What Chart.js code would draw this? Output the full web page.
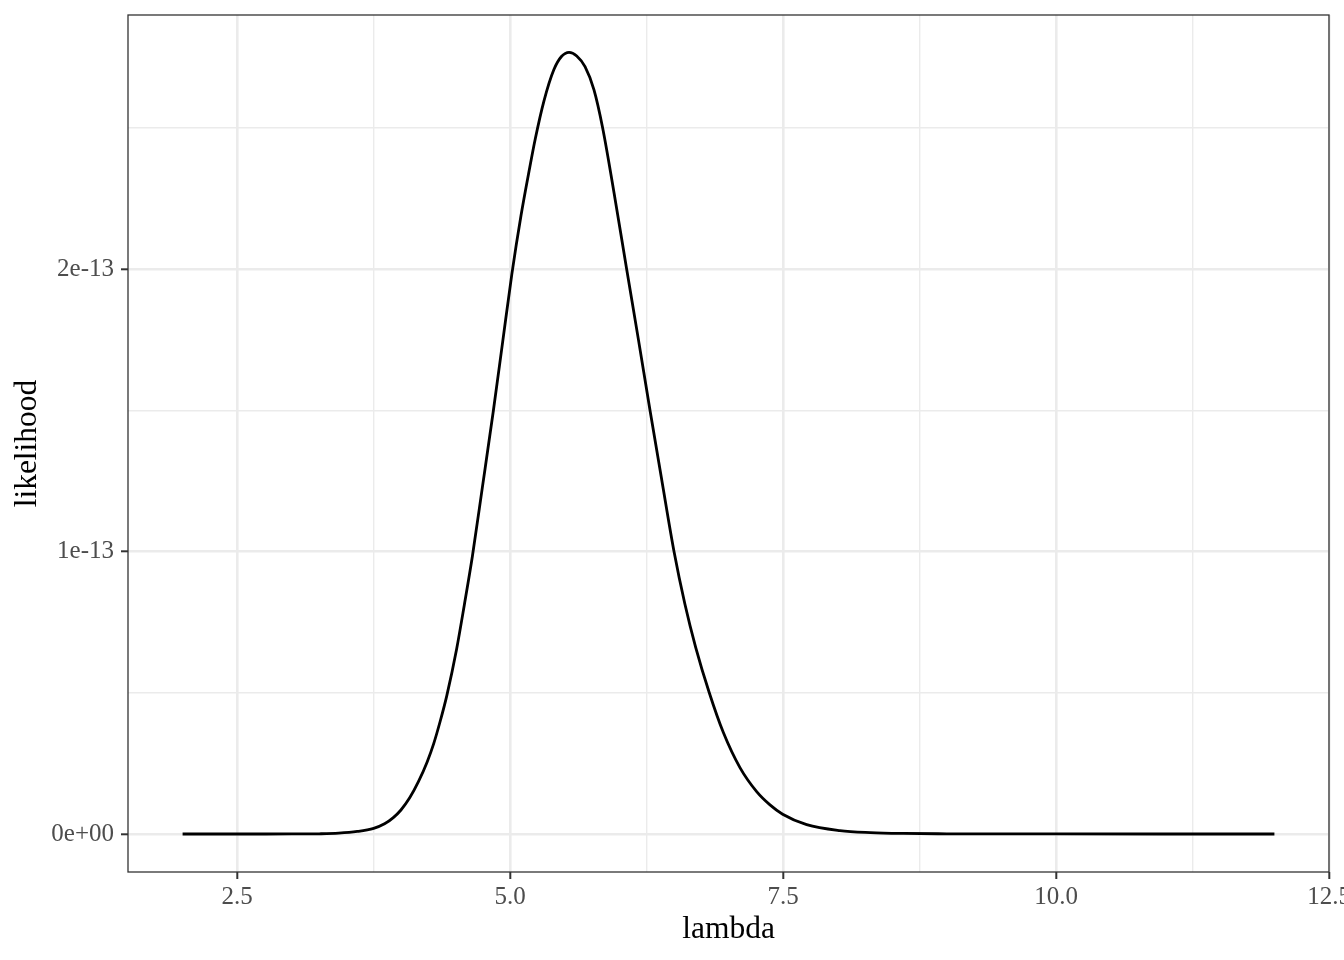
<!DOCTYPE html>
<html><head><meta charset="utf-8">
<script src="https://cdn.jsdelivr.net/npm/chart.js@4.4.1/dist/chart.umd.min.js"></script>
<style>html,body{margin:0;padding:0;background:#fff;}</style>
</head><body>
<canvas id="c" width="1344" height="960"></canvas>
<script>
// lambda values and likelihood (in units of 1e-13)
const lambdaValues = [2.0, 2.5, 3.0, 3.25, 3.43, 3.6, 3.75, 3.85, 3.93, 4.0, 4.08, 4.16, 4.24, 4.3, 4.36, 4.42, 4.51, 4.58, 4.655, 4.745, 4.847, 4.931, 5.015, 5.1, 5.18, 5.23, 5.31, 5.4, 5.47, 5.54, 5.61, 5.686, 5.768, 5.847, 5.961, 6.067, 6.175, 6.281, 6.388, 6.501, 6.6, 6.7, 6.824, 6.952, 7.105, 7.258, 7.38, 7.496, 7.716, 8.02, 8.3, 8.6, 9.0, 9.5, 10, 11, 12];
const likelihoodE13 = [0, 0, 0.0001, 0.0008, 0.003, 0.009, 0.020, 0.036, 0.058, 0.085, 0.128, 0.185, 0.255, 0.32, 0.40, 0.49, 0.655, 0.81, 0.985, 1.225, 1.5, 1.74, 1.98, 2.19, 2.36, 2.46, 2.595, 2.705, 2.752, 2.767, 2.754, 2.716, 2.634, 2.5, 2.248, 2.0, 1.75, 1.5, 1.255, 1.0, 0.815, 0.66, 0.50, 0.36, 0.235, 0.15, 0.103, 0.07, 0.033, 0.012, 0.005, 0.002, 0.0007, 0.0002, 0.0001, 0, 0];

const xTicks = [2.5, 3.75, 5, 6.25, 7.5, 8.75, 10, 11.25, 12.5];
const xMajor = [2.5, 5, 7.5, 10, 12.5];
const xTickLabels = ['2.5', '5.0', '7.5', '10.0', '12.5'];
const yTicks = [0, 0.5, 1, 1.5, 2, 2.5];
const yMajor = [0, 1, 2];
const yTickLabels = ['0e+00', '1e-13', '2e-13'];

const FONT = 'Liberation Serif, Times New Roman, serif';
const isMaj = (arr, v) => arr.some(m => Math.abs(m - v) < 1e-9);
const labelFor = (arr, labels, v) => { const i = arr.findIndex(m => Math.abs(m - v) < 1e-9); return i >= 0 ? labels[i] : ''; };

const borderPlugin = {
  id: 'panelBorder',
  afterDraw(chart) {
    const {ctx, chartArea: a} = chart;
    ctx.save();
    ctx.strokeStyle = '#333333';
    ctx.lineWidth = 1.3;
    ctx.strokeRect(a.left, a.top, a.right - a.left, a.bottom - a.top);
    ctx.restore();
  }
};

new Chart(document.getElementById('c'), {
  type: 'line',
  data: {
    datasets: [{
      data: lambdaValues.map((x, i) => ({x: x, y: likelihoodE13[i]})),
      borderColor: '#000000',
      borderWidth: 2.8,
      pointRadius: 0,
      fill: false,
      cubicInterpolationMode: 'monotone'
    }]
  },
  options: {
    responsive: false,
    animation: false,
    devicePixelRatio: 1,
    layout: {padding: {top: 15, right: 15, left: 0, bottom: 0}},
    plugins: {legend: {display: false}, tooltip: {enabled: false}},
    scales: {
      x: {
        type: 'linear', min: 1.5, max: 12.5,
        afterBuildTicks: s => { s.ticks = xTicks.map(v => ({value: v})); },
        afterFit: s => { s.height = 88; s.paddingLeft = 0; s.paddingRight = 0; },
        border: {display: false},
        grid: {
          color: '#EBEBEB',
          lineWidth: ctx => isMaj(xMajor, ctx.tick.value) ? 2.6 : 1.4,
          tickLength: 7,
          tickColor: ctx => isMaj(xMajor, ctx.tick.value) ? '#333333' : 'rgba(0,0,0,0)',
          tickWidth: 2
        },
        ticks: {
          autoSkip: false, maxRotation: 0, padding: 3, color: '#4D4D4D',
          font: {family: FONT, size: 25},
          callback: v => labelFor(xMajor, xTickLabels, v)
        },
        title: {display: true, text: 'lambda', color: '#000000', font: {family: FONT, size: 31.5}, padding: {top: 0, bottom: 11}}
      },
      y: {
        type: 'linear', min: -0.1345, max: 2.899,
        afterBuildTicks: s => { s.ticks = yTicks.map(v => ({value: v})); },
        afterFit: s => { s.width = 128; s.paddingTop = 0; s.paddingBottom = 0; },
        border: {display: false},
        grid: {
          color: '#EBEBEB',
          lineWidth: ctx => isMaj(yMajor, ctx.tick.value) ? 2.6 : 1.4,
          tickLength: 7,
          tickColor: ctx => isMaj(yMajor, ctx.tick.value) ? '#333333' : 'rgba(0,0,0,0)',
          tickWidth: 2
        },
        ticks: {
          autoSkip: false, padding: 7, color: '#4D4D4D',
          font: {family: FONT, size: 25},
          callback: v => labelFor(yMajor, yTickLabels, v)
        },
        title: {display: true, text: 'likelihood', color: '#000000', font: {family: FONT, size: 31.5}, padding: {top: 9, bottom: 0}}
      }
    }
  },
  plugins: [borderPlugin]
});
</script>
</body></html>
